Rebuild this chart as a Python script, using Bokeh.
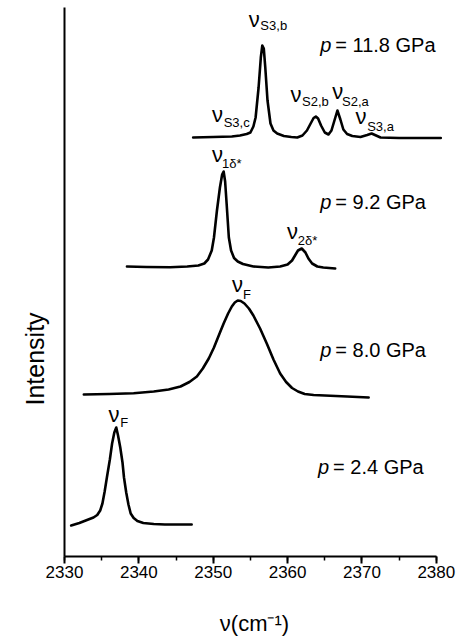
from bokeh.plotting import figure
from bokeh.models import Range1d, SingleIntervalTicker, FixedTicker, ColumnDataSource, Title
from bokeh.core.properties import value
from bokeh.embed import file_html
from bokeh.resources import INLINE

# Raman spectra of the nitrogen stretching region, stacked by pressure
# wavenumber (cm^-1) and offset intensity (arb. units)
nu_24 = [2330.9, 2332.0, 2333.2, 2333.9, 2334.4, 2334.8, 2335.1, 2335.4, 2335.7, 2336.1,
         2336.4, 2336.7, 2336.96, 2337.2, 2337.5, 2337.8, 2338.0, 2338.3, 2338.6, 2338.9,
         2339.3, 2339.8, 2340.6, 2342.0, 2343.5, 2345.0, 2347.1]
int_24 = [31, 33.5, 37, 39, 41.5, 46, 53, 65, 79, 97,
          113, 124, 129, 121, 109, 94, 79, 64, 52, 43,
          38.5, 35.5, 33.5, 32.5, 32, 32, 32]

nu_80 = [2332.6, 2336.0, 2339.3, 2342.0, 2344.0, 2345.6, 2346.8, 2347.8, 2348.6, 2349.4,
         2350.1, 2350.8, 2351.4, 2352.0, 2352.5, 2352.9, 2353.3, 2353.7, 2354.2, 2354.8,
         2355.4, 2356.3, 2357.2, 2358.1, 2359.0, 2359.8, 2360.6, 2361.4, 2362.3, 2363.5,
         2365.0, 2368.0, 2370.9]
int_80 = [162, 162.5, 163.3, 165, 167, 170, 174.5, 180, 188, 198,
          209, 222, 233, 243, 250, 254, 256, 255.5, 253, 248,
          241, 228, 213, 197, 183, 174.5, 168.5, 165, 162.5, 161.5,
          161, 160, 159]

nu_92 = [2338.4, 2341.0, 2344.2, 2346.5, 2348.0, 2348.8, 2349.3, 2349.8, 2350.1, 2350.5,
         2350.9, 2351.2, 2351.4, 2351.6, 2351.8, 2352.1, 2352.4, 2352.8, 2353.3, 2354.0,
         2355.4, 2357.4, 2359.0, 2360.0, 2360.6, 2361.0, 2361.4, 2361.9, 2362.4, 2362.8,
         2363.3, 2364.0, 2364.8, 2366.4]
int_92 = [290, 289.5, 289.3, 290, 291, 293, 297, 306, 319, 346,
          369, 382, 385, 375, 353, 319, 306, 298.5, 295, 292.5,
          290, 289, 290, 292, 296, 301, 306, 308, 304, 298,
          293, 290, 289, 288]

nu_118 = [2347.3, 2350.0, 2352.5, 2353.6, 2354.5, 2355.0, 2355.4, 2355.7, 2356.1, 2356.4,
          2356.6, 2356.8, 2357.0, 2357.3, 2357.7, 2358.1, 2358.6, 2359.5, 2360.5, 2361.3,
          2362.0, 2362.6, 2363.1, 2363.5, 2363.8, 2364.1, 2364.5, 2365.0, 2365.5, 2365.9,
          2366.3, 2366.7, 2367.1, 2367.5, 2368.0, 2368.7, 2369.8, 2370.7, 2371.3, 2371.9,
          2372.5, 2375.0, 2378.0, 2380.6]
int_118 = [419, 419.5, 420, 421, 422.5, 424, 430, 439, 469, 499,
           511, 508, 489, 456, 433, 426, 423, 420.5, 419.5, 419,
           421, 426, 433, 438.5, 440, 438, 431, 424, 422, 426,
           436, 446, 437, 427, 422.5, 420.5, 419.5, 421.5, 423, 421,
           419, 418.5, 418.5, 418.5]

pressures = ["11.8", "9.2", "8.0", "2.4"]
x_ticks_interval = 10

FONT = "Liberation Sans"

p = figure(width=459, height=643, output_backend="svg", toolbar_location=None,
           x_range=Range1d(2330, 2381.1), y_range=Range1d(0, 549),
           min_border_left=64, min_border_right=15, min_border_top=7, min_border_bottom=87)
p.background_fill_color = "white"
p.border_fill_color = "white"
p.outline_line_color = None
p.xgrid.visible = False
p.ygrid.visible = False

# spectra
for xs, ys in [(nu_24, int_24), (nu_80, int_80), (nu_92, int_92), (nu_118, int_118)]:
    p.line(xs, ys, line_color="black", line_width=2.6, line_join="round", line_cap="round")

# x axis
xa = p.xaxis[0]
xa.ticker = SingleIntervalTicker(interval=x_ticks_interval, num_minor_ticks=2)
xa.bounds = (2330, 2380)
xa.axis_line_width = 2
xa.axis_line_color = "black"
xa.major_tick_line_width = 2
xa.major_tick_in = 0
xa.major_tick_out = 7
xa.minor_tick_line_width = 1.5
xa.minor_tick_in = 0
xa.minor_tick_out = 4
xa.major_label_text_font = FONT
xa.major_label_text_font_size = "17px"
xa.major_label_text_color = "black"
xa.major_label_standoff = 2
xa.axis_label = "ν(cm⁻¹)"
xa.axis_label_text_font = FONT
xa.axis_label_text_font_size = "22px"
xa.axis_label_text_font_style = "normal"
xa.axis_label_text_color = "black"
xa.axis_label_standoff = 30

# y axis: bare line
ya = p.yaxis[0]
ya.ticker = FixedTicker(ticks=[])
ya.axis_line_width = 2
ya.axis_line_color = "black"
ya.major_tick_out = 0
ya.minor_tick_out = 0
ya.major_label_text_font_size = "0px"

# vertical "Intensity" title on the left, lifted from the bottom of the frame
p.add_layout(Title(text="Intensity", align="left", offset=151,
                   text_font=FONT, text_font_size="25px", text_font_style="normal",
                   text_color="black", standoff=31), "left")

# pressure annotations
press_src = ColumnDataSource(dict(
    x=[2364.4, 2364.4, 2364.4, 2364.1],
    y=[512, 355, 207, 90],
    rest=["= %s GPa" % v for v in pressures],
))
p.text(x="x", y="y", text=value("p"), source=press_src, text_font=value(FONT),
       text_font_size="20px", text_font_style="italic", text_color="black",
       text_align="left", text_baseline="alphabetic")
p.text(x="x", y="y", text="rest", source=press_src, text_font=value(FONT),
       text_font_size="20px", text_color="black", x_offset=15,
       text_align="left", text_baseline="alphabetic")

# peak assignments: nu symbol and its subscript
peak_nu = ColumnDataSource(dict(
    x=[2354.76, 2349.84, 2360.38, 2365.99, 2369.12, 2349.84, 2359.93, 2352.53, 2335.92],
    y=[537, 442, 462, 465, 440, 402, 325, 272, 142],
))
peak_sub = ColumnDataSource(dict(
    x=[2356.34, 2351.40, 2361.95, 2367.33, 2370.70, 2351.18, 2361.36, 2354.01, 2337.50],
    y=[531, 434, 455, 455, 430, 393, 316, 262, 134],
    t=["S3,b", "S3,c", "S2,b", "S2,a", "S3,a", "1δ*", "2δ*", "F", "F"],
))
p.text(x="x", y="y", text=value("ν"), source=peak_nu, text_font=value(FONT),
       text_font_size="22px", text_color="black",
       text_align="left", text_baseline="alphabetic")
p.text(x="x", y="y", text="t", source=peak_sub, text_font=value(FONT),
       text_font_size="13px", text_color="black",
       text_align="left", text_baseline="alphabetic")

open("out.html", "w").write(file_html(p, INLINE))
